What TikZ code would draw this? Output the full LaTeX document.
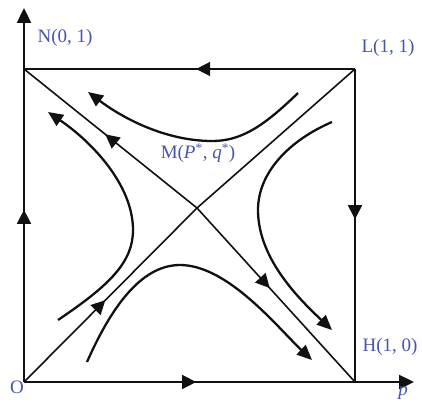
\documentclass[tikz,border=0pt]{standalone}
\usepackage{fontspec}
\setmainfont{Liberation Serif}
\usetikzlibrary{arrows.meta,decorations.markings}
\definecolor{PhaseBlue}{HTML}{4654AE}
\definecolor{PhaseInk}{HTML}{111111}

\begin{document}
\begin{tikzpicture}[x=1pt,y=-1pt,
  axis/.style={line width=2.4pt,PhaseInk,-{Triangle[length=15pt,width=14pt]}},
  edge/.style={line width=1.6pt,PhaseInk},
  diag/.style={line width=1.6pt,PhaseInk},
  traj/.style={line width=2.3pt,PhaseInk,-{Triangle[length=15pt,width=13pt]}},
  midarrow/.style={postaction={decorate},decoration={markings,
    mark=at position #1 with {\arrow{Triangle[length=14pt,width=14pt]}}}},
  lbl/.style={text=PhaseBlue,font=\fontsize{19}{22}\selectfont,inner sep=0pt},
]
\useasboundingbox (0,0) rectangle (422,404);
% corners and the saddle point
\coordinate (O) at (24,382);
\coordinate (N) at (24,69);
\coordinate (L) at (355,69);
\coordinate (H) at (355,382);
\coordinate (M) at (197,208);
\coordinate (pend) at (414,382);
\coordinate (qend) at (24,8);
% axes
\draw[axis] (O) -- (pend);
\draw[axis] (O) -- (qend);
% edges of the square
\draw[edge,midarrow=0.52] (O) -- (H);
\draw[edge,midarrow=0.55] (O) -- (N);
\draw[edge,midarrow=0.48] (L) -- (H);
\draw[edge,midarrow=0.48] (L) -- (N);
% separatrices through M
\draw[diag,midarrow=0.47] (O) -- (M);
\draw[diag] (L) -- (M);
\draw[diag,midarrow=0.53] (M) -- (N);
\draw[diag,midarrow=0.46] (M) -- (H);
% trajectories
\draw[traj] (298,93) .. controls (262,128) and (240,141) .. (212,141)
  .. controls (170,141) and (128,122) .. (88,92);
\draw[traj] (58,320) .. controls (110,285) and (133,262) .. (133,230)
  .. controls (133,185) and (92,142) .. (48,112);
\draw[traj] (332,122) .. controls (290,140) and (258,172) .. (258,210)
  .. controls (258,258) and (298,298) .. (332,330);
\draw[traj] (87,362) .. controls (110,310) and (140,265) .. (180,265)
  .. controls (228,265) and (278,328) .. (312,360);
% labels
\node[lbl] (labN) at (65,38) {N(0, 1)};
\node[lbl] (labL) at (388,48) {L(1, 1)};
\node[lbl] (labM) at (198,153) {M(\textit{P}\textsuperscript{*}, \textit{q}\textsuperscript{*})};
\node[lbl] (labH) at (390,347) {H(1, 0)};
\node[lbl] (labO) at (17,387) {O};
\node[lbl] (labp) at (403,393) {\textit{p}};
\end{tikzpicture}
\end{document}
